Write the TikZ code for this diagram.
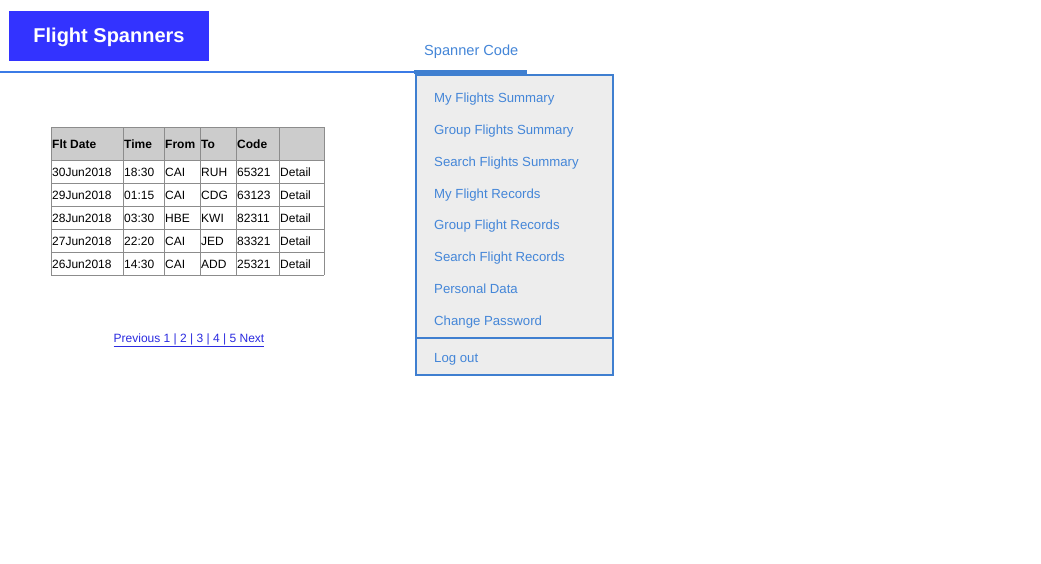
\documentclass[tikz,border=0pt]{standalone}
\usepackage{fontspec}
\setmainfont{Liberation Sans}
\definecolor{hdrblue}{HTML}{3333FF}
\definecolor{lineblue}{HTML}{3B7BE6}
\definecolor{menublue}{HTML}{3F7FD0}
\definecolor{menutext}{HTML}{4486D8}
\definecolor{menufill}{HTML}{EDEDED}
\definecolor{gridgrey}{HTML}{8C8C8C}
\definecolor{headgrey}{HTML}{CCCCCC}
\definecolor{linkblue}{HTML}{2B2BE0}
\begin{document}
\begin{tikzpicture}[x=1pt,y=-1pt,
  cell/.style={anchor=base west,inner sep=0pt,font=\fontsize{12}{14}\selectfont},
  hcell/.style={cell,font=\fontsize{12}{14}\selectfont\bfseries},
  menuitem/.style={anchor=base west,inner sep=0pt,text=menutext,font=\fontsize{13.2}{15}\selectfont},
  grid/.style={draw=gridgrey,line width=0.7pt}]
\useasboundingbox (0,0) rectangle (1041,563);
\fill[white] (0,0) rectangle (1041,563);
% header
\fill[hdrblue] (9,11) rectangle (209,61);
\node[anchor=base,inner sep=0pt,text=white,font=\fontsize{20}{24}\selectfont\bfseries] (logo) at (109,42.7) {Flight Spanners};
% top line
\coordinate (lineL) at (0,71.8);
\coordinate (lineR) at (415,71.8);
\draw[lineblue,line width=1.8pt] (lineL) -- (lineR);
% tab
\node[anchor=base west,inner sep=0pt,text=menutext,font=\fontsize{14.6}{17}\selectfont] (tab) at (424,55.5) {Spanner Code};
\coordinate (tabL) at (414,71.8);
\coordinate (tabR) at (527,71.8);
\draw[menublue,line width=4pt] (tabL) -- (tabR);
% dropdown
\node[draw=menublue,fill=menufill,line width=2pt,anchor=north west,minimum width=197pt,minimum height=300pt,inner sep=0pt] (menu) at (415,74.3) {};
\coordinate (divL) at (415,337.7);
\coordinate (divR) at (612,337.7);
\draw[menublue,line width=2pt] (divL) -- (divR);
\node[menuitem] (m1) at (434,102.3) {My Flights Summary};
\node[menuitem] (m2) at (434,134.2) {Group Flights Summary};
\node[menuitem] (m3) at (434,166.1) {Search Flights Summary};
\node[menuitem] (m4) at (434,198.0) {My Flight Records};
\node[menuitem] (m5) at (434,229.9) {Group Flight Records};
\node[menuitem] (m6) at (434,261.8) {Search Flight Records};
\node[menuitem] (m7) at (434,293.7) {Personal Data};
\node[menuitem] (m8) at (434,325.6) {Change Password};
\node[menuitem] (m9) at (434,362.3) {Log out};
% table
\fill[headgrey] (51,127) rectangle (324,160);
\foreach \x in {51,123,164,200,236,279,324} \draw[grid] (\x,127) -- (\x,275);
\foreach \y in {127,160,183,206,229,252,275} \draw[grid] (51,\y) -- (324,\y);
\node[hcell] (h1) at (52,148) {Flt Date};
\node[hcell] (h2) at (124,148) {Time};
\node[hcell] (h3) at (165,148) {From};
\node[hcell] (h4) at (201,148) {To};
\node[hcell] (h5) at (237,148) {Code};
\foreach \r/\d/\t/\f/\o/\c [count=\i] in {
  176/30Jun2018/18:30/CAI/RUH/65321,
  199/29Jun2018/01:15/CAI/CDG/63123,
  222/28Jun2018/03:30/HBE/KWI/82311,
  245/27Jun2018/22:20/CAI/JED/83321,
  268/26Jun2018/14:30/CAI/ADD/25321}{
  \node[cell] (d\i) at (52,\r) {\d};
  \node[cell] (t\i) at (124,\r) {\t};
  \node[cell] (f\i) at (165,\r) {\f};
  \node[cell] (o\i) at (201,\r) {\o};
  \node[cell] (c\i) at (237,\r) {\c};
  \node[cell] (x\i) at (280,\r) {Detail};
}
% pagination
\node[anchor=base,inner sep=0pt,text=linkblue,font=\fontsize{12}{14}\selectfont] (pager) at (189,342) {\underline{Previous 1 | 2 | 3 | 4 | 5 Next}};
\end{tikzpicture}
\end{document}
